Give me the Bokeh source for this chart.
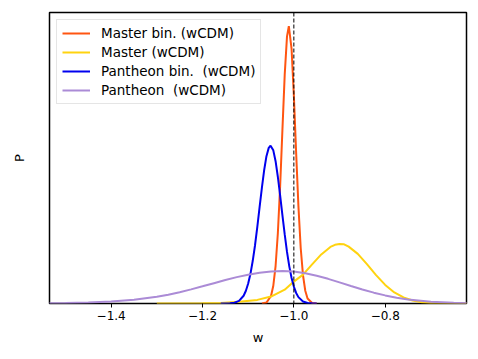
from bokeh.plotting import figure
from bokeh.models import Span, Legend, LegendItem, FixedTicker, Range1d
from bokeh.embed import file_html
from bokeh.resources import INLINE

# ---- data (w, P) ----
w_master_bin = [-1.070, -1.060, -1.050, -1.045, -1.040, -1.035, -1.030, -1.025, -1.020,
                -1.015, -1.011, -1.005, -1.000, -0.995, -0.990, -0.985, -0.980, -0.975,
                -0.970, -0.960, -0.950]
p_master_bin = [0.0003, 0.0033, 0.027, 0.064, 0.135, 0.254, 0.424, 0.627, 0.825,
                0.963, 1.000, 0.918, 0.750, 0.544, 0.351, 0.200, 0.102, 0.046,
                0.018, 0.002, 0.0001]

w_master = [-1.30, -1.24, -1.20, -1.16, -1.12, -1.08, -1.05, -1.02, -1.00, -0.98, -0.96,
            -0.94, -0.92, -0.91, -0.90, -0.89, -0.88, -0.86, -0.84, -0.82, -0.80,
            -0.78, -0.76, -0.74, -0.72, -0.70, -0.68, -0.65, -0.62]
p_master = [0.0001, 0.0003, 0.0008, 0.002, 0.006, 0.013, 0.025, 0.050, 0.079, 0.104, 0.141,
            0.177, 0.204, 0.2115, 0.2144, 0.2135, 0.205, 0.179, 0.142, 0.1025, 0.067,
            0.040, 0.0218, 0.0108, 0.0048, 0.0020, 0.0007, 0.0001, 0.0]

w_pantheon_bin = [-1.160, -1.150, -1.140, -1.130, -1.120, -1.110, -1.105, -1.100, -1.095,
                  -1.090, -1.085, -1.080, -1.075, -1.070, -1.065, -1.060, -1.055, -1.051,
                  -1.045, -1.040, -1.035, -1.030, -1.025, -1.020, -1.015, -1.010, -1.005,
                  -1.000, -0.995, -0.990, -0.980, -0.970, -0.960, -0.950]
p_pantheon_bin = [0.0, 0.0001, 0.0006, 0.0027, 0.0094, 0.028, 0.046, 0.072, 0.107,
                  0.154, 0.210, 0.276, 0.347, 0.417, 0.481, 0.531, 0.561, 0.569,
                  0.552, 0.513, 0.456, 0.389, 0.318, 0.249, 0.186, 0.134, 0.092,
                  0.061, 0.038, 0.023, 0.0074, 0.002, 0.0005, 0.0001]

w_pantheon = [-1.54, -1.50, -1.45, -1.40, -1.35, -1.300, -1.275, -1.250, -1.225, -1.200,
              -1.175, -1.150, -1.125, -1.100, -1.075, -1.050, -1.025, -1.000, -0.975,
              -0.950, -0.925, -0.900, -0.875, -0.850, -0.825, -0.800, -0.775, -0.750,
              -0.700, -0.650, -0.620]
p_pantheon = [0.0012, 0.0018, 0.0040, 0.0070, 0.0135, 0.0243, 0.0319, 0.0408, 0.0509, 0.0619,
              0.0732, 0.0845, 0.0950, 0.1040, 0.1110, 0.1155, 0.1170, 0.1150, 0.1090,
              0.1000, 0.0889, 0.0762, 0.0631, 0.0505, 0.0391, 0.0292, 0.0211, 0.0147,
              0.0065, 0.0025, 0.0013]

series_names = ["Master bin. (wCDM)", "Master (wCDM)", "Pantheon bin.  (wCDM)", "Pantheon  (wCDM)"]
x_ticks = [-1.4, -1.2, -1.0, -0.8]
x_tick_labels = ["\u22121.4", "\u22121.2", "\u22121.0", "\u22120.8"]
w_ref = -1.0

FONT = "DejaVu Sans"

p = figure(width=470, height=351, output_backend="svg", toolbar_location=None,
           x_range=Range1d(-1.535, -0.622), y_range=Range1d(0, 1.049),
           min_border_left=49, min_border_right=4, min_border_top=12, min_border_bottom=48)
p.background_fill_color = "white"
p.border_fill_color = "white"
p.grid.visible = False
p.outline_line_color = "black"
p.outline_line_width = 1.5

colors = ["#ff5511", "#ffd30f", "#0000ee", "#ab8bd6"]
data = [(w_master_bin, p_master_bin), (w_master, p_master),
        (w_pantheon_bin, p_pantheon_bin), (w_pantheon, p_pantheon)]
items = []
for (xs, ys), c, name in zip(data, colors, series_names):
    r = p.line(xs, ys, line_color=c, line_width=2)
    items.append(LegendItem(label=name, renderers=[r]))

p.add_layout(Span(location=w_ref, dimension="height", line_color="black",
                  line_width=1, line_dash="4 2"))

legend = Legend(items=items, location="top_left")
legend.label_text_font = FONT
legend.label_text_font_size = "13.5px"
legend.label_text_color = "black"
legend.label_height = 16
legend.glyph_height = 16
legend.glyph_width = 28
legend.label_standoff = 11
legend.spacing = 3
legend.padding = 5
legend.margin = 7
legend.border_line_color = "#cccccc"
legend.border_line_width = 1
legend.background_fill_alpha = 0.8
p.add_layout(legend)

xa = p.xaxis[0]
xa.ticker = FixedTicker(ticks=x_ticks)
xa.major_label_overrides = {t: l for t, l in zip(x_ticks, x_tick_labels)}
xa.minor_tick_line_color = None
xa.major_tick_in = 0
xa.major_tick_out = 4
xa.major_tick_line_color = "black"
xa.axis_line_color = None
xa.major_label_text_font = FONT
xa.major_label_text_font_size = "12px"
xa.major_label_text_color = "black"
xa.major_label_standoff = 3
xa.axis_label = "w"
xa.axis_label_text_font = FONT
xa.axis_label_text_font_size = "13px"
xa.axis_label_text_font_style = "normal"
xa.axis_label_text_color = "black"
xa.axis_label_standoff = 7

ya = p.yaxis[0]
ya.ticker = FixedTicker(ticks=[])
ya.major_tick_line_color = None
ya.minor_tick_line_color = None
ya.axis_line_color = None
ya.major_label_standoff = 0
ya.axis_label = "P"
ya.axis_label_text_font = FONT
ya.axis_label_text_font_size = "13px"
ya.axis_label_text_font_style = "normal"
ya.axis_label_text_color = "black"
ya.axis_label_standoff = 23

open("out.html", "w").write(file_html(p, INLINE))
